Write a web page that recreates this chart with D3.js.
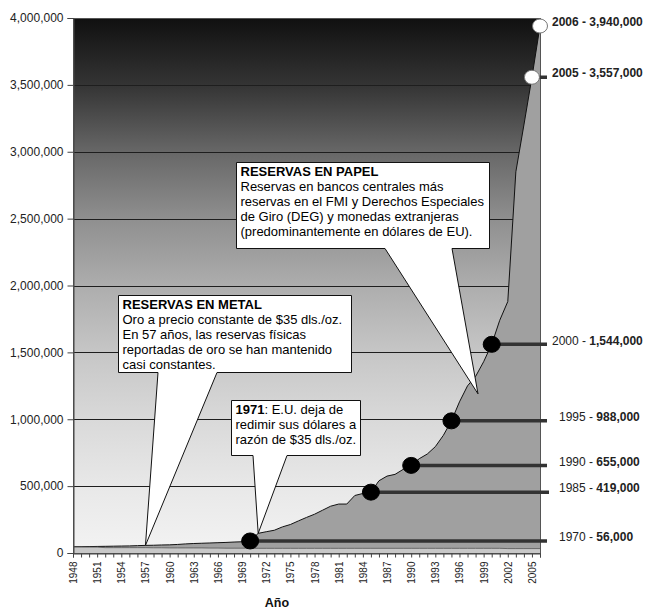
<!DOCTYPE html>
<html><head><meta charset="utf-8">
<script src="https://cdn.jsdelivr.net/npm/d3@7"></script>
<style>
body{margin:0;background:#fff;}
svg{display:block;font-family:"Liberation Sans",Arial,sans-serif;}
</style></head><body>
<svg id="chart" width="649" height="611"></svg>
<script>
// ---------- DATA ----------
const years = [1948,1949,1950,1951,1952,1953,1954,1955,1956,1957,1958,1959,1960,1961,1962,1963,1964,1965,1966,1967,1968,1969,1970,1971,1972,1973,1974,1975,1976,1977,1978,1979,1980,1981,1982,1983,1984,1985,1986,1987,1988,1989,1990,1991,1992,1993,1994,1995,1996,1997,1998,1999,2000,2001,2002,2003,2004,2005,2006];
const totalReserves = [47000,47000,48000,49000,50000,51000,52000,53000,55000,57000,58000,60000,61000,64000,68000,71000,73000,75000,77000,79000,82000,84000,90000,147000,159000,170000,195000,213000,240000,266000,290000,320000,350000,366000,366000,430000,445000,455000,540000,575000,588000,625000,655000,705000,740000,795000,880000,988000,1130000,1250000,1320000,1430000,1560000,1740000,1880000,2850000,3200000,3557000,3940000];
const goldReserves = [44000,44000,44000,44000,40000,40000,40000,40000,40000,40000,39000,39000,38000,38000,38000,38000,38000,37000,37000,36000,36000,36000,36000,35000,35000,35000,35000,35000,35000,35000,35000,35000,35000,35000,35000,35000,35000,35000,35000,35000,35000,35000,35000,35000,35000,35000,35000,35000,35000,35000,35000,35000,35000,35000,33000,33000,33000,33000,33000];
const yTicks = [0,500000,1000000,1500000,2000000,2500000,3000000,3500000,4000000];
const xLabelYears = [1948,1951,1954,1957,1960,1963,1966,1969,1972,1975,1978,1981,1984,1987,1990,1993,1996,1999,2002,2005];
const markerYears = [1970,1985,1990,1995,2000,2005,2006];
const markerLabelValues = ["56,000","419,000","655,000","988,000","1,544,000","3,557,000","3,940,000"];
const xAxisTitle = "Año";

const calloutMetal = {anchorYear:1957, title:"RESERVAS EN METAL",
  lines:["Oro a precio constante de $35 dls./oz.","En 57 años, las reservas físicas","reportadas de oro se han mantenido","casi constantes."]};
const calloutPapel = {anchorYear:1998.3, anchorValue:1190000, title:"RESERVAS EN PAPEL",
  lines:["Reservas en bancos centrales más","reservas en el FMI y Derechos Especiales","de Giro (DEG) y monedas extranjeras","(predominantemente en dólares de EU)."]};
const callout1971 = {anchorYear:1971, title:"1971", titleRest:": E.U. deja de",
  lines:["redimir sus dólares a","razón de $35 dls./oz."]};

// ---------- LAYOUT ----------
const L=73, R=540, T=18, B=553;
const svg = d3.select("#chart");
const x = d3.scaleLinear().domain([1948,2006]).range([L,R]);
const y = d3.scaleLinear().domain([0,4000000]).range([B,T]);
const data = years.map((yr,i)=>({year:yr,total:totalReserves[i],gold:goldReserves[i]}));
const valAt = yr => totalReserves[years.indexOf(yr)];

// gradient
const defs = svg.append("defs");
const grad = defs.append("linearGradient").attr("id","bg").attr("x1",0).attr("x2",0).attr("y1",0).attr("y2",1);
[[0,"#101010"],[0.125,"#343434"],[0.25,"#676767"],[0.375,"#8f8f8f"],[0.5,"#adadad"],[0.625,"#c6c6c6"],[0.75,"#d9d9d9"],[0.875,"#e8e8e8"],[1,"#f3f3f3"]]
  .forEach(([o,c])=>grad.append("stop").attr("offset",o).attr("stop-color",c));

svg.append("rect").attr("x",L).attr("y",T).attr("width",R-L).attr("height",B-T).attr("fill","url(#bg)");

// gridlines
svg.append("g").selectAll("line").data(yTicks.filter(d=>d>0)).join("line")
  .attr("x1",L).attr("x2",R).attr("y1",d=>Math.round(y(d))+0.5).attr("y2",d=>Math.round(y(d))+0.5)
  .attr("stroke","#1e1e1e").attr("stroke-width",1);

// areas
svg.append("path").datum(data)
  .attr("d",d3.area().x(d=>x(d.year)).y0(B).y1(d=>y(d.total)))
  .attr("fill","#a0a0a0");
svg.append("path").datum(data)
  .attr("d",d3.line().x(d=>x(d.year)).y(d=>y(d.total)))
  .attr("fill","none").attr("stroke","#111").attr("stroke-width",1);
svg.append("path").datum(data)
  .attr("d",d3.area().x(d=>x(d.year)).y0(B).y1(d=>y(d.gold)))
  .attr("fill","#c8c8c8");
svg.append("path").datum(data)
  .attr("d",d3.line().x(d=>x(d.year)).y(d=>y(d.gold)))
  .attr("fill","none").attr("stroke","#555").attr("stroke-width",0.8);

// plot border
svg.append("rect").attr("x",L+0.5).attr("y",T+0.5).attr("width",R-L).attr("height",B-T)
  .attr("fill","none").attr("stroke","#555").attr("stroke-width",1);

// callouts
function callout(c, box, wedge, tip){
  const [bl,bt,br,bb]=box;
  const p = `M${bl},${bt}H${br}V${bb}H${wedge[1]}L${tip[0]},${tip[1]}L${wedge[0]},${bb}H${bl}Z`;
  const g = svg.append("g");
  g.append("path").attr("d",p).attr("fill","#fff").attr("stroke","#111").attr("stroke-width",1);
  const t = g.append("text").attr("x",bl+4).attr("y",bt+13.5).attr("font-size",13).attr("fill","#000");
  t.append("tspan").attr("font-weight","bold").text(c.title);
  if(c.titleRest) t.append("tspan").text(c.titleRest);
  c.lines.forEach((ln,i)=>g.append("text").attr("x",bl+4).attr("y",bt+13.5+15*(i+1))
    .attr("font-size",13).attr("fill","#000").text(ln));
}
callout(calloutPapel,[236.5,162.5,489.5,248.5],[385,452],[x(calloutPapel.anchorYear),y(calloutPapel.anchorValue)]);
callout(calloutMetal,[118.5,295.5,351.5,372.5],[158,217],[x(calloutMetal.anchorYear),y(valAt(calloutMetal.anchorYear))]);
callout(callout1971,[231.5,400.5,360.5,455.5],[253,287],[x(callout1971.anchorYear),y(valAt(callout1971.anchorYear))]);

// marker lines, dots, labels
const lineEnd = {1970:547,1985:549,1990:547,1995:547,2000:547,2005:547,2006:null};
const mk = markerYears.map((yr,i)=>({year:yr,v:valAt(yr),label:markerLabelValues[i],i}));
svg.append("g").selectAll("line").data(mk.filter(d=>lineEnd[d.year])).join("line")
  .attr("x1",d=>x(d.year)).attr("x2",d=>lineEnd[d.year])
  .attr("y1",d=>y(d.v)).attr("y2",d=>y(d.v))
  .attr("stroke","#333").attr("stroke-width",3.5);
svg.append("g").selectAll("ellipse").data(mk).join("ellipse")
  .attr("cx",d=>x(d.year)).attr("cy",d=>y(d.v))
  .attr("rx",d=>d.year>=2005?7.5:8.5).attr("ry",d=>d.year>=2005?7:8)
  .attr("fill",d=>d.year>=2005?"#fff":"#000")
  .attr("stroke",d=>d.year>=2005?"#777":"#000").attr("stroke-width",1);
const lblX = yr => yr>=2000?552:559;
const lt = svg.append("g").selectAll("text").data(mk).join("text")
  .attr("x",d=>lblX(d.year)).attr("y",d=>y(d.v)-4).attr("dy","0.35em")
  .attr("font-size",12).attr("fill","#222");
lt.append("tspan").attr("font-weight",d=>d.year>=2005?"bold":"normal").text(d=>d.year+" - ");
lt.append("tspan").attr("font-weight","bold").text(d=>d.label);

// axes
const ya = svg.append("g").attr("transform",`translate(${L+0.5},0)`)
  .call(d3.axisLeft(y).tickValues(yTicks).tickFormat(d3.format(",")).tickSize(6).tickPadding(4));
ya.select(".domain").attr("stroke","#444");
ya.selectAll(".tick line").attr("stroke","#444");
ya.selectAll("text").attr("font-size",12).attr("fill","#222").attr("font-family","Liberation Sans, Arial, sans-serif");

const xa = svg.append("g").attr("transform",`translate(0,${B+0.5})`)
  .call(d3.axisBottom(x).tickValues(years).tickSize(4).tickFormat(d=>xLabelYears.includes(d)?String(d):""));
xa.select(".domain").attr("stroke","#444");
xa.selectAll(".tick line").attr("stroke","#444");
xa.selectAll("text").attr("font-size",10).attr("fill","#222").attr("font-family","Liberation Sans, Arial, sans-serif")
  .attr("transform","rotate(-90)").attr("text-anchor","end").attr("x",-8).attr("y",0).attr("dy","0.35em");

svg.append("text").attr("x",277).attr("y",607).attr("text-anchor","middle")
  .attr("font-size",12.5).attr("font-weight","bold").attr("fill","#111").text(xAxisTitle);
</script>
</body></html>
